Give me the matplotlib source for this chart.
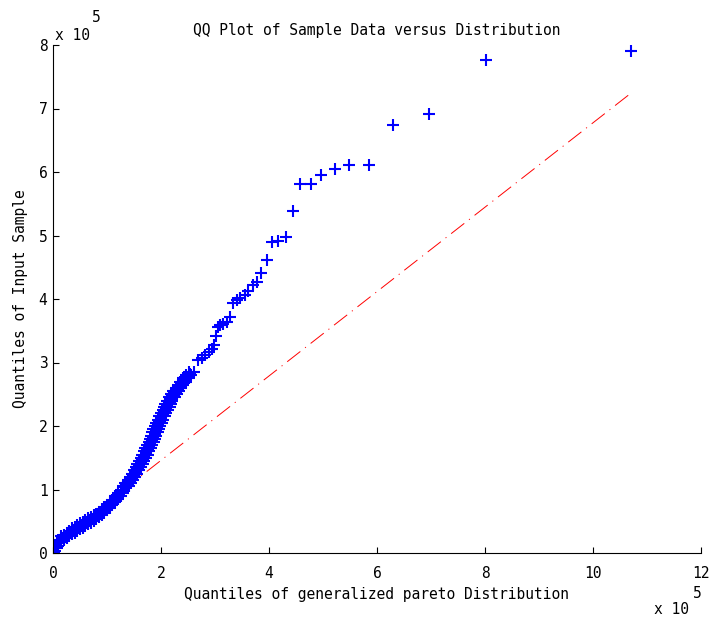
import matplotlib
matplotlib.use("Agg")
import matplotlib.pyplot as plt
from matplotlib.ticker import FuncFormatter
import numpy as np

SCALE = 1e5  # axis multiplier (x 10^5)

# Theoretical quantiles (generalized Pareto) and sample quantiles, in units of 1e5
theo_q = [
    # near the origin
    0.00, 0.00, 0.02, 0.02, 0.04, 0.04, 0.07, 0.07,
    # lower body of the sample
    0.10, 0.10, 0.15, 0.15, 0.20, 0.20, 0.25, 0.25, 0.30, 0.30,
    0.35, 0.35, 0.40, 0.40, 0.45, 0.45, 0.50, 0.50, 0.55, 0.55,
    0.60, 0.60, 0.65, 0.65, 0.70, 0.70, 0.75, 0.75, 0.80, 0.80,
    0.85, 0.85, 0.90, 0.90, 0.95, 0.95, 1.00, 1.00, 1.05, 1.05,
    1.10, 1.10, 1.15, 1.15, 1.20, 1.20, 1.25, 1.25, 1.30, 1.30,
    0.125, 0.175, 0.225, 0.275, 0.325, 0.375, 0.425, 0.475,
    0.525, 0.575, 0.625, 0.675, 0.725, 0.775, 0.825, 0.875,
    0.925, 0.975, 1.025, 1.075, 1.125, 1.175, 1.225, 1.275,
    # steep middle section
    1.30, 1.40, 1.34, 1.44, 1.38, 1.48, 1.42, 1.52, 1.46, 1.56,
    1.50, 1.60, 1.53, 1.63, 1.56, 1.66, 1.59, 1.69, 1.63, 1.73,
    1.65, 1.75, 1.68, 1.78, 1.71, 1.81, 1.74, 1.84, 1.77, 1.87,
    1.79, 1.89, 1.81, 1.91, 1.84, 1.94, 1.86, 1.96, 1.89, 1.99,
    1.91, 2.01, 1.94, 2.04, 1.97, 2.07, 2.00, 2.10, 2.03, 2.13,
    2.06, 2.16, 2.08, 2.18, 2.11, 2.21, 2.15, 2.25, 2.19, 2.29,
    2.23, 2.33, 2.27, 2.37, 2.31, 2.41, 2.36, 2.46, 2.41, 2.51,
    2.46, 2.56, 2.51, 2.61,
    1.37, 1.41, 1.45, 1.49, 1.53, 1.56, 1.60, 1.63, 1.66, 1.69,
    1.72, 1.75, 1.77, 1.80, 1.83, 1.85, 1.88, 1.90, 1.92, 1.95,
    1.97, 2.00, 2.03, 2.06, 2.09, 2.12, 2.15, 2.18, 2.22, 2.26,
    2.30, 2.34, 2.39, 2.44, 2.49, 2.54,
    # upper tail
    2.69, 2.75, 2.81, 2.88, 2.94, 2.98, 3.02, 3.06, 3.09,
    3.15, 3.22, 3.28, 3.34, 3.40, 3.46, 3.56, 3.62, 3.71,
    3.77, 3.86, 3.96, 4.06, 4.16, 4.31, 4.44, 4.57, 4.78,
    4.96, 5.22, 5.49, 5.85, 6.29, 6.96, 8.02, 10.70]
sample_q = [
    0.00, 0.04, 0.00, 0.08, 0.03, 0.12, 0.08, 0.16,
    0.20, 0.11, 0.26, 0.17, 0.29, 0.20, 0.32, 0.23, 0.35, 0.26,
    0.39, 0.30, 0.41, 0.32, 0.44, 0.35, 0.47, 0.38, 0.49, 0.40,
    0.52, 0.43, 0.55, 0.46, 0.57, 0.48, 0.60, 0.51, 0.62, 0.53,
    0.65, 0.56, 0.69, 0.60, 0.72, 0.63, 0.76, 0.67, 0.80, 0.71,
    0.84, 0.75, 0.89, 0.80, 0.94, 0.85, 0.99, 0.90, 1.04, 0.95,
    0.18, 0.23, 0.26, 0.29, 0.32, 0.35, 0.38, 0.41,
    0.43, 0.46, 0.49, 0.51, 0.54, 0.57, 0.59, 0.62,
    0.66, 0.70, 0.73, 0.77, 0.81, 0.86, 0.91, 0.96,
    1.05, 1.05, 1.10, 1.10, 1.15, 1.15, 1.20, 1.20, 1.25, 1.25,
    1.30, 1.30, 1.35, 1.35, 1.40, 1.40, 1.45, 1.45, 1.50, 1.50,
    1.55, 1.55, 1.60, 1.60, 1.65, 1.65, 1.70, 1.70, 1.75, 1.75,
    1.80, 1.80, 1.85, 1.85, 1.90, 1.90, 1.95, 1.95, 2.00, 2.00,
    2.05, 2.05, 2.10, 2.10, 2.15, 2.15, 2.20, 2.20, 2.25, 2.25,
    2.30, 2.30, 2.35, 2.35, 2.40, 2.40, 2.45, 2.45, 2.50, 2.50,
    2.55, 2.55, 2.60, 2.60, 2.65, 2.65, 2.70, 2.70, 2.75, 2.75,
    2.80, 2.80, 2.85, 2.85,
    1.075, 1.125, 1.175, 1.225, 1.275, 1.325, 1.375, 1.425, 1.475, 1.525,
    1.575, 1.625, 1.675, 1.725, 1.775, 1.825, 1.875, 1.925, 1.975, 2.025,
    2.075, 2.125, 2.175, 2.225, 2.275, 2.325, 2.375, 2.425, 2.475, 2.525,
    2.575, 2.625, 2.675, 2.725, 2.775, 2.825,
    3.04, 3.07, 3.12, 3.17, 3.22, 3.28, 3.42, 3.56, 3.59,
    3.61, 3.64, 3.72, 3.93, 3.98, 4.01, 4.06, 4.12, 4.22,
    4.27, 4.41, 4.61, 4.90, 4.91, 4.98, 5.38, 5.81, 5.81,
    5.95, 6.04, 6.11, 6.11, 6.74, 6.91, 7.77, 7.91]

# Reference line through the quartiles, extended over the data range
ref_x = [0.00, 10.70]
ref_y = [0.13, 7.24]

x_ticks = [0, 2, 4, 6, 8, 10, 12]
y_ticks = [0, 1, 2, 3, 4, 5, 6, 7, 8]

plt.rcParams['font.family'] = ['DejaVu Sans Mono']
plt.rcParams['font.size'] = 10.5
plt.rcParams['lines.scale_dashes'] = False

fig = plt.figure(figsize=(7.11, 6.21), dpi=100)
ax = fig.add_axes([53 / 711, 68 / 621, 648 / 711, 508 / 621])

ax.plot(np.array(ref_x) * SCALE, np.array(ref_y) * SCALE, color='#ff0000',
        linewidth=0.7, linestyle=(0, (12, 4.3, 0.8, 4.3)), zorder=1)
ax.plot(np.array(theo_q) * SCALE, np.array(sample_q) * SCALE, linestyle='none',
        marker='+', markersize=8.0, markeredgewidth=1.5, color='#0000ff', zorder=2)

ax.set_xlim(0, 12 * SCALE)
ax.set_ylim(0, 8 * SCALE)
ax.set_xticks([t * SCALE for t in x_ticks])
ax.set_yticks([t * SCALE for t in y_ticks])
fmt = FuncFormatter(lambda v, pos: f"{v / SCALE:g}")
ax.xaxis.set_major_formatter(fmt)
ax.yaxis.set_major_formatter(fmt)

for side in ('top', 'right'):
    ax.spines[side].set_visible(False)
for side in ('left', 'bottom'):
    ax.spines[side].set_linewidth(0.8)
ax.tick_params(direction='in', length=4.5, width=0.8, top=False, right=False,
               labelsize=10.5)
ax.tick_params(axis='x', pad=9)
ax.tick_params(axis='y', pad=4)

ax.set_title('QQ Plot of Sample Data versus Distribution', fontsize=10.5, pad=7)
ax.set_xlabel('Quantiles of generalized pareto Distribution', fontsize=10.5, labelpad=5)
ax.set_ylabel('Quantiles of Input Sample', fontsize=10.5, labelpad=8)

# Axis multipliers
fig.text(55 / 711, 1 - 36 / 621, 'x 10', ha='left', va='center', fontsize=10.5)
fig.text(96 / 711, 1 - 17 / 621, '5', ha='center', va='center', fontsize=10.5)
fig.text(672 / 711, 1 - 610 / 621, 'x 10', ha='center', va='center', fontsize=10.5)
fig.text(697 / 711, 1 - 593 / 621, '5', ha='center', va='center', fontsize=10.5)

fig.savefig('out.png', dpi=100)
